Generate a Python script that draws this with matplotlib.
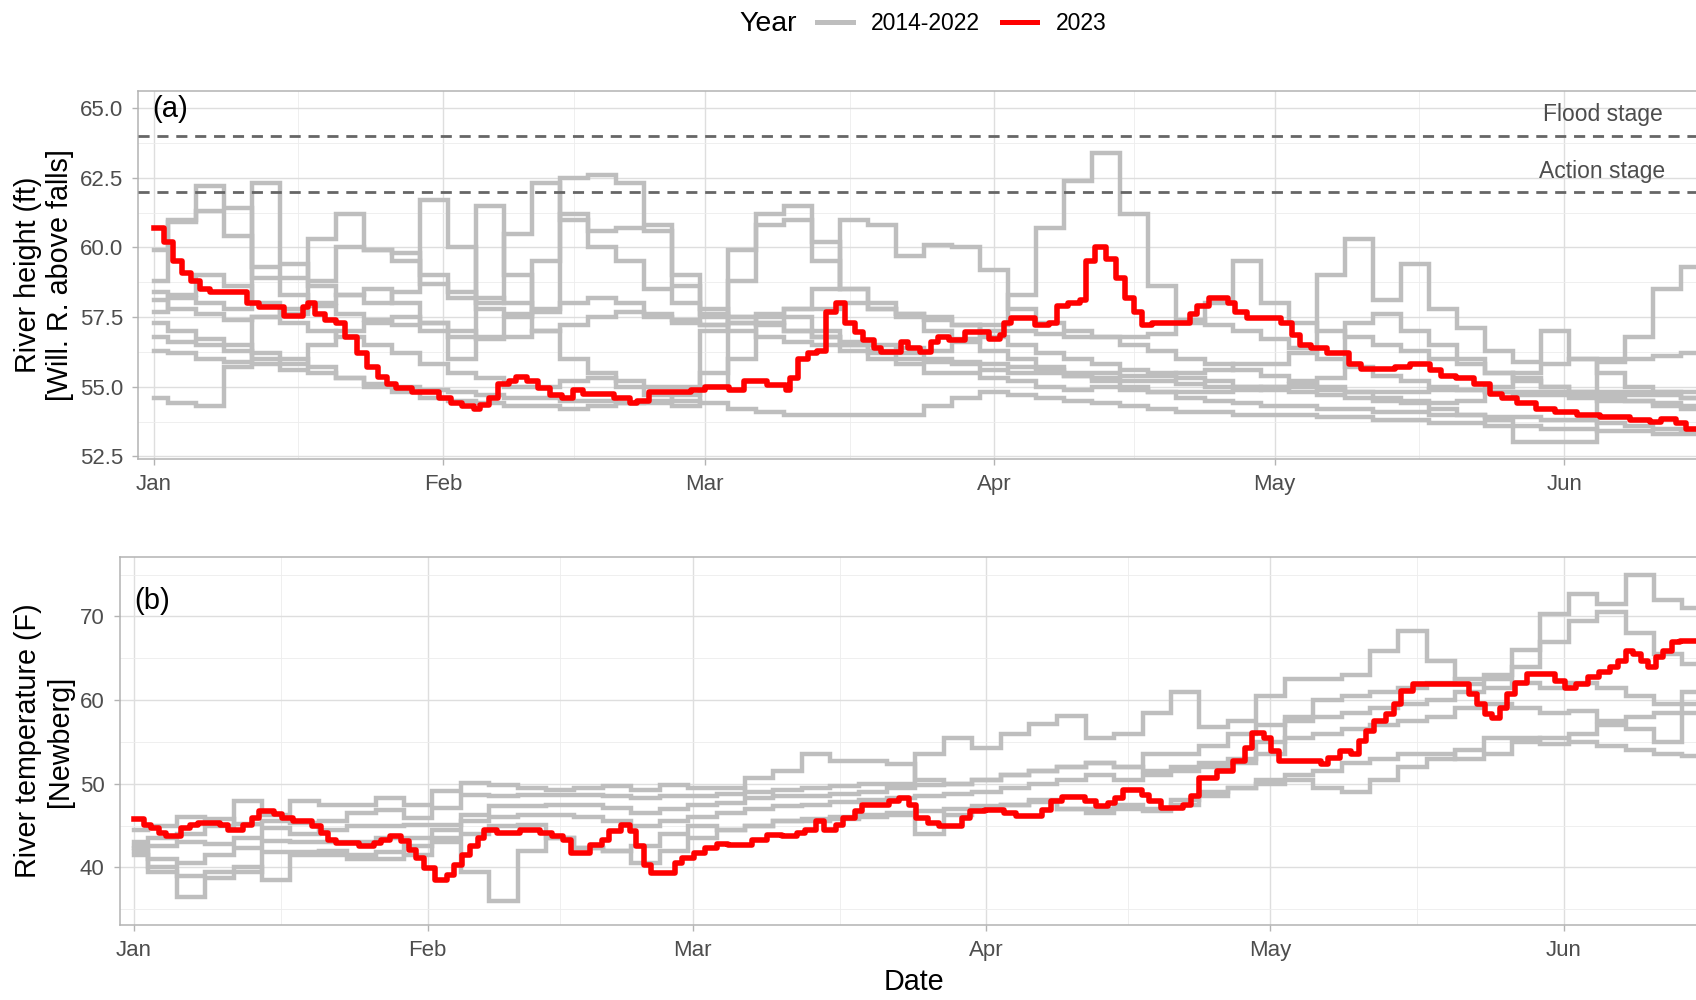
import matplotlib
matplotlib.use('Agg')
import matplotlib.pyplot as plt
from matplotlib.lines import Line2D

plt.rcParams['font.family'] = ['Liberation Sans', 'DejaVu Sans']

# ---------------- data ----------------
month_labels = ['Jan', 'Feb', 'Mar', 'Apr', 'May', 'Jun']
month_days = [0, 31, 59, 90, 120, 151]
minor_days = [15.5, 45, 74.5, 105, 135.5]

# sample days (days since Jan 1) for the 2014-2022 traces
grid_days = [0, 3, 6, 9, 12, 15, 18, 21, 24, 27, 30, 33, 36, 39, 42, 45, 48, 51, 54, 57,
             60, 63, 66, 69, 72, 75, 78, 81, 84, 87, 90, 93, 96, 99, 102, 105, 108, 111,
             114, 117, 120, 123, 126, 129, 132, 135, 138, 141, 144, 147, 150, 153, 156,
             159, 162, 165]

# River height (ft), 2014-2022
height_2014 = [58.8, 60.9, 62.2, 61.4, 58.9, 58.3,
               57.9, 57.6, 57.4, 57.2, 57.0, 56.8,
               56.7, 57.5, 59.5, 62.5, 62.6, 62.3, 60.8, 58.6,
               57.5, 57.3, 57.2, 57.0, 56.8, 56.6, 56.5, 56.4,
               56.3, 56.6, 57.2, 58.3, 60.7, 62.4, 63.4, 61.2,
               58.6, 57.4, 57.2, 57.0, 56.7, 56.4, 56.0, 55.7,
               55.4, 55.2, 55.0, 54.9, 54.8, 54.7, 54.7, 54.6, 54.5, 54.5, 54.4, 54.3]
height_2015 = [59.9, 61.0, 61.3, 60.4, 59.3, 58.9,
               60.3, 61.2, 59.9, 59.8, 59.0, 58.4,
               58.0, 60.5, 62.3, 61.0, 60.0, 59.5, 58.5, 58.0,
               57.6, 57.5, 57.6, 57.8, 57.8, 58.0, 57.8, 57.6,
               57.4, 57.2, 57.0, 57.0, 56.9, 56.8, 56.8, 56.8,
               56.9, 57.3, 58.0, 59.5, 58.0, 57.3, 57.0, 56.8,
               56.5, 56.3, 56.0, 55.8, 55.5, 55.3, 55.0, 54.8, 54.8, 54.8, 54.8, 54.8]
height_2016 = [58.4, 58.2, 58.0, 57.8, 62.3, 59.4,
               58.6, 58.3, 58.0, 58.4, 61.7, 60.0,
               58.2, 58.0, 57.8, 61.2, 60.6, 60.7, 60.6, 59.0,
               57.8, 57.5, 57.3, 57.0, 56.8, 56.5, 56.3, 56.2,
               56.0, 55.9, 55.8, 55.7, 55.6, 55.5, 55.5, 55.4,
               55.4, 55.5, 55.6, 55.8, 55.8, 56.2, 59.0, 60.3,
               58.1, 59.4, 57.8, 57.1, 56.3, 55.9, 57.0, 56.0, 55.5, 55.0, 54.8, 54.6]
height_2017 = [58.1, 57.8, 57.6, 57.4, 57.5, 57.8,
               58.0, 58.3, 58.5, 58.0, 57.3, 56.0,
               61.5, 59.0, 57.0, 56.0, 55.5, 55.0, 54.7, 54.5,
               54.4, 54.2, 54.1, 54.0, 54.0, 54.0, 54.0, 54.0,
               54.3, 54.6, 54.8, 54.7, 54.6, 54.5, 54.4, 54.3,
               54.2, 54.1, 54.1, 54.0, 54.0, 54.0, 53.9, 53.9,
               53.8, 53.8, 53.7, 53.7, 53.6, 53.6, 53.5, 53.5, 53.4, 53.4, 53.3, 53.3]
height_2018 = [54.6, 54.4, 54.3, 55.7, 57.5, 57.3,
               57.0, 56.8, 56.5, 56.2, 55.8, 55.5,
               55.3, 55.0, 55.0, 55.2, 55.3, 55.2, 55.0, 55.0,
               55.0, 56.0, 57.3, 57.5, 57.0, 56.5, 56.0, 55.8,
               55.5, 55.5, 55.3, 55.2, 55.0, 54.9, 55.0, 54.9,
               54.8, 54.8, 54.8, 54.9, 55.0, 55.0, 54.9, 54.8,
               54.8, 54.8, 54.9, 54.9, 54.8, 54.8, 54.8, 54.7, 54.7, 54.7, 54.7, 54.6]
height_2019 = [57.3, 57.0, 56.7, 56.5, 56.2, 56.0,
               55.7, 55.3, 55.0, 54.8, 54.6, 54.5,
               54.4, 54.3, 54.3, 54.2, 54.3, 54.4, 54.5, 54.7,
               55.5, 58.8, 61.2, 61.5, 60.2, 58.5, 57.8, 57.5,
               57.5, 57.2, 56.8, 56.5, 56.2, 56.0, 55.8, 55.6,
               55.5, 55.3, 55.2, 55.0, 54.9, 54.8, 54.7, 54.6,
               54.5, 54.5, 54.4, 54.5, 55.0, 55.5, 55.8, 56.0, 56.0, 56.8, 58.5, 59.3]
height_2020 = [56.8, 56.6, 56.5, 56.3, 56.0, 55.8,
               56.5, 57.0, 57.3, 57.5, 57.3, 57.0,
               56.8, 56.8, 57.0, 57.2, 57.5, 57.7, 57.6, 57.4,
               57.2, 57.3, 57.5, 57.8, 58.5, 61.0, 60.8, 59.7,
               60.1, 60.0, 59.2, 57.8, 57.3, 57.0, 56.8, 56.5,
               56.3, 56.0, 55.8, 55.6, 55.4, 55.2, 55.0, 54.8,
               54.6, 54.4, 54.2, 54.0, 53.8, 53.0, 53.0, 53.0, 55.9, 56.0, 56.1, 56.2]
height_2021 = [56.3, 56.2, 56.0, 55.9, 55.8, 55.6,
               55.5, 55.3, 55.1, 55.0, 54.9, 54.8,
               54.7, 54.6, 54.6, 54.5, 54.5, 54.4, 54.4, 54.3,
               57.0, 59.9, 60.8, 61.0, 59.5, 58.5, 58.0, 57.6,
               57.0, 56.7, 56.3, 56.0, 55.7, 55.4, 55.2, 55.0,
               54.8, 54.6, 54.5, 54.4, 54.3, 54.3, 54.2, 54.2,
               54.1, 54.1, 54.0, 54.0, 53.9, 53.9, 53.8, 53.8, 53.7, 53.6, 53.5, 53.4]
height_2022 = [57.7, 58.3, 59.0, 58.6, 58.0, 57.6,
               58.8, 60.0, 59.9, 59.5, 58.7, 58.2,
               57.8, 57.6, 57.7, 58.0, 58.2, 58.0, 57.5, 57.3,
               57.2, 57.0, 56.8, 56.6, 56.5, 56.3, 56.2, 56.0,
               55.9, 55.8, 55.6, 55.5, 55.5, 55.4, 55.3, 55.2,
               55.2, 55.1, 55.0, 55.0, 55.0, 55.1, 55.3, 57.3,
               57.6, 57.0, 56.5, 56.0, 55.5, 55.2, 55.0, 54.8, 54.6, 54.5, 54.3, 54.2]

# River height 2023: (day since Jan 1, ft)
height_2023 = [
    (0, 60.7), (1.1, 60.2), (2.1, 59.5), (3, 59.1), (4, 58.8), (5, 58.5), (6, 58.4),
    (10, 58.0), (11.3, 57.85), (14, 57.55), (16, 57.85), (16.5, 58.0), (17.3, 57.6),
    (18.3, 57.4), (19.5, 57.3), (20.5, 56.8), (21.8, 56.2), (22.8, 55.7), (24, 55.35),
    (25, 55.1), (26, 54.95), (27.7, 54.8), (30.6, 54.6), (31.8, 54.4), (33, 54.3),
    (34.3, 54.2), (34.9, 54.35), (35.9, 54.6), (36.9, 55.1), (38, 55.2), (38.8, 55.35),
    (40, 55.2), (41.2, 54.95), (42.4, 54.7), (43.7, 54.6), (44.9, 54.9), (46, 54.75),
    (49.3, 54.6), (51, 54.4), (51.8, 54.5), (53, 54.8), (57.5, 54.9), (59, 55.0),
    (61.6, 54.9), (63.2, 55.2), (65.7, 55.05), (67.7, 54.9), (68.1, 55.3), (69, 56.0),
    (70, 56.2), (71, 56.3), (72, 57.7), (73, 58.0), (74, 57.3), (75.1, 56.97),
    (75.9, 56.67), (77.1, 56.4), (77.9, 56.25), (80, 56.6), (80.8, 56.4), (82, 56.25),
    (83.2, 56.6), (84, 56.8), (85.2, 56.67), (86.9, 56.97), (89.4, 56.7), (90.6, 56.85),
    (91, 57.3), (91.8, 57.45), (94.3, 57.2), (95.9, 57.3), (96.7, 57.9), (97.9, 58.0),
    (99.2, 58.1), (99.8, 59.5), (100.8, 60.0), (102, 59.6), (103, 58.9), (104, 58.2),
    (105, 57.7), (105.8, 57.2), (106.9, 57.27), (110.9, 57.6), (111.7, 57.9),
    (113, 58.17), (115, 58.0), (115.8, 57.7), (117, 57.45), (120.7, 57.3),
    (121.9, 56.85), (122.7, 56.5), (123.9, 56.4), (125.6, 56.2), (128, 55.8),
    (129.2, 55.65), (132.9, 55.7), (134.5, 55.8), (136.6, 55.6), (137.8, 55.4),
    (139.4, 55.3), (141.4, 55.1), (143.1, 54.75), (144.3, 54.6), (145.9, 54.4),
    (148, 54.2), (150, 54.1), (152.4, 53.98), (154.8, 53.9), (158, 53.8),
    (160.2, 53.74), (161.4, 53.83), (163, 53.7), (164, 53.5), (166, 53.5)]

# River temperature (F), earlier years
temp_a = [44.5, 45.0, 46.0, 45.8, 45.2, 45.5, 45.3, 45.5, 46.5, 46.9, 45.9, 47.1,
          48.7, 48.5, 48.7, 48.7, 48.7, 48.5, 48.3, 48.5, 48.5, 48.8, 50.7, 51.5,
          53.5, 52.7, 52.7, 52.3, 50.5, 50.0, 50.5, 51.0, 51.5, 52.0, 52.5, 52.0,
          51.5, 52.0, 52.5, 53.0, 55.0, 58.0, 60.0, 60.5, 61.0, 61.5, 62.0, 62.5,
          63.0, 64.0, 67.0, 69.5, 70.5, 68.0, 65.5, 64.3]
temp_b = [43.0, 43.5, 44.0, 45.0, 47.9, 46.3, 47.9, 47.4, 47.5, 48.3, 47.5, 49.1,
          50.1, 49.9, 49.5, 49.3, 49.5, 49.7, 49.3, 49.9, 49.5, 49.5, 49.0, 49.3,
          49.5, 49.7, 50.0, 50.0, 53.5, 55.5, 54.3, 55.9, 57.1, 58.1, 55.5, 56.0,
          58.5, 61.0, 56.8, 57.5, 60.5, 62.5, 62.5, 63.0, 65.9, 68.3, 64.7, 61.9,
          62.5, 66.0, 70.3, 72.7, 71.5, 75.0, 72.0, 71.0]
temp_c = [42.5, 42.5, 43.0, 42.8, 43.5, 44.7, 44.0, 44.5, 45.0, 45.0, 45.1, 45.1,
          46.3, 47.3, 47.3, 47.5, 47.5, 47.1, 46.5, 47.0, 47.5, 47.7, 48.3, 48.5,
          48.5, 48.8, 49.0, 49.5, 49.8, 50.0, 50.5, 51.0, 51.5, 52.0, 52.5, 52.0,
          53.5, 53.5, 54.5, 56.0, 57.0, 57.5, 58.0, 58.5, 59.0, 59.5, 60.0, 61.0,
          61.5, 62.0, 61.5, 62.0, 61.5, 60.5, 59.5, 59.5]
temp_d = [42.0, 41.0, 40.5, 41.5, 42.3, 43.1, 43.0, 43.0, 43.0, 43.5, 43.5, 44.5,
          45.5, 46.0, 46.3, 46.3, 46.0, 45.5, 45.0, 45.5, 46.0, 46.5, 47.0, 47.3,
          47.5, 47.8, 48.0, 48.3, 48.5, 48.8, 49.0, 49.5, 50.0, 50.5, 51.0, 50.5,
          51.0, 51.5, 52.0, 52.5, 53.5, 55.5, 56.0, 56.5, 57.0, 57.5, 58.0, 59.0,
          59.5, 59.0, 58.5, 58.7, 57.5, 58.0, 58.5, 61.0]
temp_e = [41.5, 39.5, 36.5, 38.7, 40.0, 38.5, 41.5, 41.5, 41.5, 41.9, 41.5, 43.5,
          44.0, 45.0, 45.1, 43.5, 42.3, 42.0, 40.5, 42.0, 43.5, 44.5, 45.0, 45.5,
          45.8, 46.0, 46.3, 46.5, 44.0, 46.3, 47.0, 47.5, 48.0, 47.0, 47.0, 47.5,
          47.0, 48.0, 49.0, 49.5, 50.0, 50.5, 49.5, 49.0, 50.5, 52.0, 53.0, 54.0,
          55.5, 55.5, 54.7, 56.0, 57.0, 56.5, 55.0, 58.4]
temp_f = [42.3, 40.0, 39.0, 39.5, 39.5, 41.9, 41.9, 42.0, 41.0, 41.0, 42.5, 43.0,
          39.5, 36.0, 42.0, 43.5, 42.3, 42.0, 42.5, 44.0, 45.0, 44.5, 45.0, 45.5,
          45.5, 45.8, 46.0, 46.3, 46.8, 47.0, 47.3, 47.5, 47.8, 47.0, 46.5, 47.0,
          46.8, 47.5, 48.5, 49.5, 50.5, 51.0, 51.5, 52.5, 53.0, 53.5, 53.5, 53.0,
          53.5, 55.0, 55.5, 55.0, 54.5, 54.0, 53.5, 53.3]

# River temperature 2023: (day since Jan 1, F)
temp_2023 = [
    (0, 45.75), (1, 45.1), (1.8, 44.7), (2.6, 44.1), (3.4, 43.75), (5, 44.7),
    (5.9, 45.1), (6.7, 45.3), (9.1, 45.1), (9.9, 44.5), (11.5, 45.1), (12.4, 45.9),
    (13.2, 46.75), (14.8, 46.35), (15.6, 45.9), (16.8, 45.55), (18.8, 44.9),
    (19.7, 44.1), (20.5, 43.3), (21.3, 42.9), (23.7, 42.5), (25.3, 42.9), (26.1, 43.3),
    (27, 43.8), (28.2, 43.1), (29, 42.1), (29.8, 41.1), (30.6, 39.9), (31.8, 38.5),
    (33, 39.1), (33.8, 40.3), (34.6, 41.5), (35.5, 42.5), (36.3, 43.5), (37, 44.5),
    (38.3, 44.1), (40.8, 44.5), (42.9, 44.1), (44.1, 43.7), (45.3, 43.3), (46.1, 41.7),
    (48.1, 42.7), (49.4, 43.3), (50.2, 44.3), (51.4, 45.1), (52.4, 44.3), (53, 42.5),
    (53.8, 40.3), (54.6, 39.3), (57.1, 40.5), (57.9, 41.1), (59.1, 41.7), (60.3, 42.3),
    (61.5, 42.8), (62.7, 42.7), (65.2, 43.3), (66.8, 43.9), (68.4, 43.7), (70, 44.1),
    (70.8, 44.5), (72, 45.5), (72.9, 44.5), (74.1, 45.1), (74.9, 45.9), (76.1, 46.7),
    (76.9, 47.5), (79.7, 47.9), (80.8, 48.3), (81.8, 47.5), (82.6, 45.9), (83.8, 45.3),
    (85, 44.9), (87.4, 45.9), (88.3, 46.7), (89.9, 46.9), (91.9, 46.5), (93.1, 46.1),
    (95.9, 46.9), (96.8, 47.9), (98, 48.4), (100.4, 47.9), (101.6, 47.3), (102.8, 47.7),
    (103.6, 48.3), (104.4, 49.3), (106.4, 48.7), (107.2, 47.9), (108.4, 47.1),
    (110.8, 47.5), (111.6, 48.5), (112.4, 50.7), (114.4, 51.5), (116, 52.7),
    (117.3, 54.3), (118.1, 56.1), (119.3, 55.5), (120.1, 53.9), (120.9, 52.7),
    (125.3, 52.3), (126.1, 53.1), (127.3, 53.9), (128.5, 53.5), (129.3, 55.1),
    (130.1, 56.3), (130.9, 57.5), (132.2, 58.3), (133, 59.5), (133.8, 61.1),
    (135, 61.9), (141, 60.7), (141.8, 59.5), (142.6, 58.3), (143.4, 57.9), (144.2, 59.1),
    (145, 60.7), (145.8, 62.1), (147.1, 63.1), (150, 62.3), (151.1, 61.5), (152.3, 61.9),
    (153.5, 62.7), (154.7, 63.3), (155.9, 63.9), (156.7, 64.7), (157.5, 65.9),
    (158.3, 65.5), (159.1, 64.7), (159.9, 63.9), (160.7, 65.1), (161.5, 65.9),
    (162.4, 66.9), (163.2, 67.1), (166, 67.1)]

height_ticks = [52.5, 55.0, 57.5, 60.0, 62.5, 65.0]
height_minor = [53.75, 56.25, 58.75, 61.25, 63.75]
temp_ticks = [40, 50, 60, 70]
temp_minor = [35, 45, 55, 65, 75]
flood_stage = 64.0
action_stage = 62.0

# ---------------- figure ----------------
W, H = 1696, 1000
fig = plt.figure(figsize=(W / 100, H / 100), dpi=100)
fig.patch.set_facecolor('white')

GREY = '#BEBEBE'
RED = '#FF0000'
TXT = '#4D4D4D'


def px_axes(l, t, r, b):
    return fig.add_axes([l / W, 1 - b / H, (r - l) / W, (b - t) / H])


def style(ax, yt, ymin, ylabels):
    ax.set_facecolor('white')
    for s in ax.spines.values():
        s.set_color('#B3B3B3')
        s.set_linewidth(1.1)
    ax.set_xticks(month_days)
    ax.set_xticklabels(month_labels)
    ax.set_xticks(minor_days, minor=True)
    ax.set_yticks(yt)
    ax.set_yticklabels(ylabels)
    ax.set_yticks(ymin, minor=True)
    ax.grid(which='major', color='#DEDEDE', lw=1.0)
    ax.grid(which='minor', color='#EDEDED', lw=0.6)
    ax.set_axisbelow(True)
    ax.tick_params(which='major', length=4.5, width=1, color='#B3B3B3',
                   labelsize=16, labelcolor=TXT, pad=6.5)
    ax.tick_params(which='minor', length=0)


ax1 = px_axes(138.4, 90.9, 1708, 458.6)
ax2 = px_axes(120, 557, 1708, 924.8)

style(ax1, height_ticks, height_minor, [f'{v:.1f}' for v in height_ticks])
style(ax2, temp_ticks, temp_minor, [str(v) for v in temp_ticks])

# --- panel (a)
for s in [height_2014, height_2015, height_2016, height_2017, height_2018,
          height_2019, height_2020, height_2021, height_2022]:
    ax1.plot(grid_days, s, color=GREY, lw=3.2, drawstyle='steps-mid',
             solid_joinstyle='miter')
hd = [p[0] for p in height_2023]
hv = [p[1] for p in height_2023]
ax1.plot(hd, hv, color=RED, lw=4.0, drawstyle='steps-post', zorder=5)

ax1.axhline(flood_stage, color='#666666', lw=2.0, ls=(0, (4, 2.8)), zorder=4)
ax1.axhline(action_stage, color='#666666', lw=2.0, ls=(0, (4, 2.8)), zorder=4)
ax1.text(155.1, 64.77, 'Flood stage', ha='center', va='center', fontsize=16.5, color=TXT)
ax1.text(155.1, 62.71, 'Action stage', ha='center', va='center', fontsize=16.5, color=TXT)
ax1.text(-0.1, 64.97, '(a)', ha='left', va='center', fontsize=21, color='black')

ax1.set_xlim(-1.63, 166.4)
ax1.set_ylim(52.42, 65.62)
ax1.set_ylabel('River height (ft)\n[Will. R. above falls]', fontsize=20.7,
               color='black', ha='center', va='center', multialignment='center',
               linespacing=1.2)
ax1.yaxis.set_label_coords((44 - 138.4) / (1708 - 138.4), 0.5)

# --- panel (b)
for s in [temp_a, temp_b, temp_c, temp_d, temp_e, temp_f]:
    ax2.plot(grid_days, s, color=GREY, lw=3.2, drawstyle='steps-mid',
             solid_joinstyle='miter')
td = [p[0] for p in temp_2023]
tv = [p[1] for p in temp_2023]
ax2.plot(td, tv, color=RED, lw=4.0, drawstyle='steps-post', zorder=5)
ax2.text(0.0, 71.85, '(b)', ha='left', va='center', fontsize=21, color='black')

ax2.set_xlim(-1.49, 166.2)
ax2.set_ylim(33.14, 77.1)
ax2.set_ylabel('River temperature (F)\n[Newberg]', fontsize=20.7, color='black',
               ha='center', va='center', multialignment='center', linespacing=1.2)
ax2.yaxis.set_label_coords((44 - 120) / (1708 - 120), 0.5)
ax2.set_xlabel('Date', fontsize=20.7, color='black', va='center')
ax2.xaxis.set_label_coords(0.5, -(982 - 924.8) / (924.8 - 557))

# --- legend
fig.text(739 / W, 1 - 24 / H, 'Year', fontsize=20.5, ha='left', va='center')
handles = [Line2D([], [], color=GREY, lw=3.6), Line2D([], [], color=RED, lw=3.6)]
fig.legend(handles, ['2014-2022', '2023'], loc='center left',
           bbox_to_anchor=(817 / W, 1 - 24 / H), ncol=2, frameon=False,
           fontsize=16.5, handlelength=1.55, handletextpad=0.8,
           columnspacing=0.95, borderpad=0, borderaxespad=0)

fig.savefig('out.png', dpi=100, facecolor='white')
